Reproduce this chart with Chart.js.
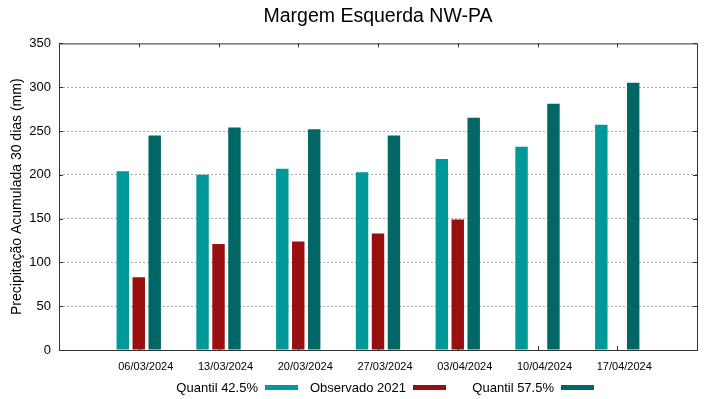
<!DOCTYPE html>
<html>
<head>
<meta charset="utf-8">
<script src="https://cdn.jsdelivr.net/npm/chart.js@4/dist/chart.umd.min.js"></script>
<style>
  html, body { margin: 0; padding: 0; background: #fff; }
  #wrap { width: 719px; height: 399px; }
</style>
</head>
<body>
<div id="wrap"><canvas id="chuvaChart" width="719" height="399"></canvas></div>
<script>
const datas = ["06/03/2024", "13/03/2024", "20/03/2024", "27/03/2024", "03/04/2024", "10/04/2024", "17/04/2024"];
const quantil425 = [204, 200, 207, 203, 218, 232, 257];
const observado2021 = [83, 121, 124, 133, 149, null, null];
const quantil575 = [245, 254, 252, 245, 265, 281, 305];
const yTicks = [0, 50, 100, 150, 200, 250, 300, 350];

// gnuplot style: an empty slot at each end of the x axis
const pad = (arr) => [null, ...arr, null];
const labels = ["", ...datas, ""];

// frame around the plot + small inward ticks
const moldura = {
  id: "moldura",
  afterDraw(chart) {
    const { ctx, chartArea: a, scales } = chart;
    ctx.save();
    ctx.strokeStyle = "#333";
    ctx.lineWidth = 1;
    ctx.strokeRect(a.left + 0.5, a.top + 0.5, a.right - a.left, a.bottom - a.top);
    ctx.beginPath();
    yTicks.forEach((v) => {
      const y = Math.round(scales.y.getPixelForValue(v)) + 0.5;
      ctx.moveTo(a.left, y); ctx.lineTo(a.left + 4, y);
      ctx.moveTo(a.right, y); ctx.lineTo(a.right - 4, y);
    });
    datas.forEach((d, i) => {
      const x = Math.round(scales.x.getPixelForValue(i + 1)) + 0.5;
      ctx.moveTo(x, a.bottom); ctx.lineTo(x, a.bottom - 4);
      ctx.moveTo(x, a.top); ctx.lineTo(x, a.top + 4);
    });
    ctx.stroke();
    ctx.restore();
  },
};

// gnuplot-like key: text first, then the colour sample
const legenda = {
  id: "legenda",
  afterDraw(chart) {
    const { ctx, chartArea: a } = chart;
    const meio = (a.left + a.right) / 2;
    const y = 388;
    ctx.save();
    ctx.font = "13px 'Liberation Sans'";
    ctx.textAlign = "right";
    ctx.textBaseline = "middle";
    chart.data.datasets.forEach((ds, i) => {
      const bx = meio - 113 + i * 148;
      ctx.fillStyle = "#000";
      ctx.fillText(ds.label, bx - 7, y);
      ctx.fillStyle = ds.backgroundColor;
      ctx.fillRect(bx, y - 3, 33, 5);
    });
    ctx.restore();
  },
};

const ctx = document.getElementById("chuvaChart");
new Chart(ctx, {
  type: "bar",
  data: {
    labels: labels,
    datasets: [
      {
        label: "Quantil 42.5%",
        data: pad(quantil425),
        backgroundColor: "#009999",
      },
      {
        label: "Observado 2021",
        data: pad(observado2021),
        backgroundColor: "#990f0f",
      },
      {
        label: "Quantil 57.5%",
        data: pad(quantil575),
        backgroundColor: "#006666",
      },
    ],
  },
  options: {
    responsive: false,
    animation: false,
    categoryPercentage: 0.6,
    barPercentage: 0.78,
    layout: { padding: { left: 0, right: 22, top: 0, bottom: 22 } },
    plugins: {
      title: {
        display: true,
        fullSize: false,
        text: "Margem Esquerda NW-PA",
        color: "#000",
        font: { family: "Liberation Sans", size: 19.5, weight: "normal" },
        padding: { top: 5, bottom: 15 },
      },
      legend: { display: false },
      tooltip: { enabled: false },
    },
    scales: {
      x: {
        offset: false,
        afterFit: (scale) => { scale.height = 27; },
        grid: { display: false, drawTicks: false },
        border: { display: false },
        ticks: {
          color: "#000",
          font: { family: "Liberation Sans", size: 11 },
          maxRotation: 0,
          autoSkip: false,
          labelOffset: 7,
          padding: 10,
        },
      },
      y: {
        min: 0,
        max: 350,
        afterFit: (scale) => { scale.width = 59; },
        afterBuildTicks: (scale) => { scale.ticks = yTicks.map((v) => ({ value: v })); },
        title: {
          display: true,
          text: "Precipitação Acumulada 30 dias (mm)",
          color: "#000",
          font: { family: "Liberation Sans", size: 14 },
          padding: { top: 9, bottom: 0 },
        },
        grid: {
          drawTicks: false,
          color: (c) => (c.tick && (c.tick.value === 0 || c.tick.value === 350) ? "transparent" : "#aaa"),
          lineWidth: 1,
        },
        border: { display: false, dash: [2, 2] },
        ticks: {
          color: "#000",
          font: { family: "Liberation Sans", size: 13 },
          padding: 8,
        },
      },
    },
  },
  plugins: [moldura, legenda],
});
</script>
</body>
</html>
